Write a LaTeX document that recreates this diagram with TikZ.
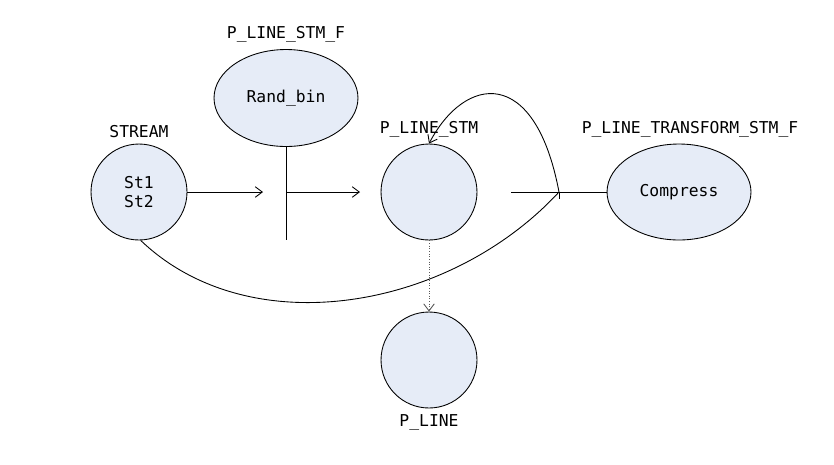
\documentclass[tikz,border=0pt]{standalone}
\usepackage{fontspec}
\setmonofont{DejaVu Sans Mono}
\usetikzlibrary{arrows.meta, shapes.geometric}
\definecolor{bubble}{HTML}{E6ECF7}
\begin{document}
\begin{tikzpicture}[x=0.02cm, y=-0.02cm, line width=0.5pt,
    >={Straight Barb[length=4pt, width=6pt]},
    every node/.style={font=\ttfamily\fontsize{9.3}{11}\selectfont},
    proc/.style={circle, draw, fill=bubble, minimum size=1.92cm, inner sep=0pt},
    func/.style={ellipse, draw, fill=bubble, minimum width=2.88cm, minimum height=1.94cm, inner sep=0pt},
    every label/.style={font=\ttfamily\fontsize{9.3}{11}\selectfont, label distance=0pt}]
\useasboundingbox (0,0) rectangle (834,464);
% nodes
\node[proc, align=center, label=above:STREAM] (stream) at (139,192) {St1\\St2};
\node[func, label=above:P\_LINE\_STM\_F] (randbin) at (286,98) {Rand\_bin};
\node[proc, label=above:P\_LINE\_STM] (pstm) at (429,192) {};
\node[func, minimum height=1.92cm, label={[xshift=0.22cm]above:P\_LINE\_TRANSFORM\_STM\_F}] (compress) at (679,192) {Compress};
\node[proc, label=below:P\_LINE] (pline) at (429,360) {};
% free ends
\coordinate (barbot) at (286,240);
\coordinate (inend) at (263,192);
\coordinate (barmid) at (286,192);
\coordinate (outend) at (360,192);
\coordinate (pstmout) at (511,192);
\coordinate (join) at (559,192);
% connectors
\draw[->] (stream.east) -- (inend);
\draw (randbin.south) -- (barbot);
\draw[->] (barmid) -- (outend);
\draw (pstmout) -- (compress.west);
\draw (join) -- ++(0,7);
\draw[->] (join) .. controls (535,65) and (465,75) .. (pstm.north);
\draw (stream.-88) .. controls (250,345) and (450,310) .. (join);
\draw[->, densely dotted, gray!70!black] (pstm.south) -- (pline.north);
\end{tikzpicture}
\end{document}
